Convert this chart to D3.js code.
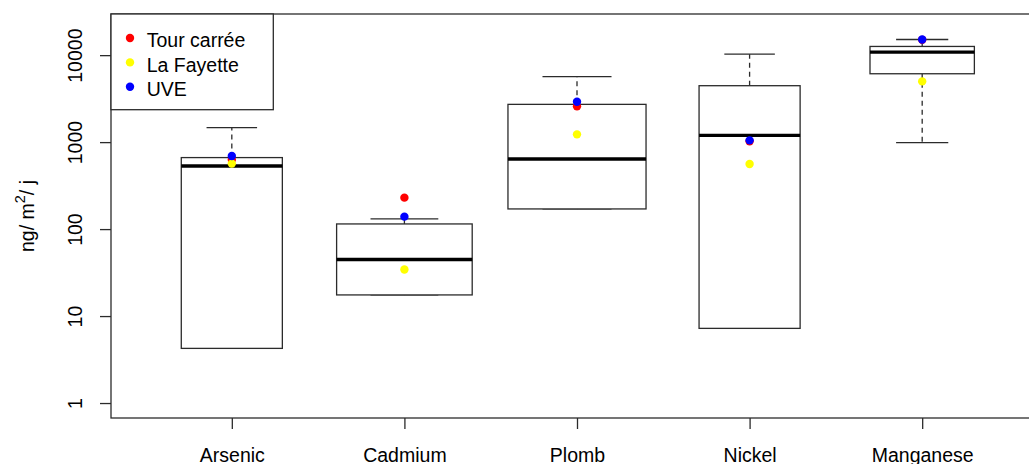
<!DOCTYPE html>
<html>
<head>
<meta charset="utf-8">
<script src="https://cdn.jsdelivr.net/npm/d3@7"></script>
<style>
  body { margin: 0; background: #fff; }
  svg { display: block; }
  text { font-family: "Liberation Sans", Arial, sans-serif; fill: #000; }
</style>
</head>
<body>
<svg id="chart"></svg>
<script>
// metals measured, ng/m2/j (log scale)
var categories = ["Arsenic", "Cadmium", "Plomb", "Nickel", "Manganese"];
// boxplot stats
var whiskerLow  = [4.25, 17.5, 170.5, 7.22, 987];
var q1          = [4.25, 17.5, 170.5, 7.22, 6110];
var median      = [531, 44.7, 640, 1196, 10830];
var q3          = [664, 114.6, 2717, 4453, 12590];
var whiskerHigh = [1466, 130.9, 5650, 10270, 15140];
// group sizes (varwidth boxes)
var sampleSizes = [15, 27, 28, 15, 16];

// one value per site
var sites = ["Tour carrée", "La Fayette", "UVE"];
var siteColors = ["red", "yellow", "blue"];
var tourCarree = [626, 230, 2577, 1021, 15000];
var laFayette  = [566, 34.3, 1228, 560, 4990];
var uve        = [692, 139, 2917, 1048, 15140];
var siteValues = [tourCarree, laFayette, uve];

var yLimits = [1, 20000];
var yTicks = [1, 10, 100, 1000, 10000];

var svgWidth = 1029, svgHeight = 464;
var margin = { top: 14, left: 111, bottom: 46 };
var plotRight = 1043;
var height = svgHeight - margin.top - margin.bottom;

var svg = d3.select("#chart")
  .attr("width", svgWidth)
  .attr("height", svgHeight);

// R style: extend ranges by 4% (log space for y)
var lo = Math.log10(yLimits[0]), hi = Math.log10(yLimits[1]);
var pad = (hi - lo) * 0.04;
var y = d3.scaleLog()
  .domain([Math.pow(10, lo - pad), Math.pow(10, hi + pad)])
  .range([margin.top + height, margin.top]);

var xpad = categories.length * 0.04;
var x = d3.scaleLinear()
  .domain([0.5 - xpad, categories.length + 0.5 + xpad])
  .range([margin.left, plotRight]);

var maxN = d3.max(sampleSizes);
var boxW = function (i) {
  return x(0.8 * Math.sqrt(sampleSizes[i] / maxN)) - x(0);
};

var lineColor = "#2b2b2b";

// boxes
var g = svg.append("g");
categories.forEach(function (c, i) {
  var cx = x(i + 1), w = boxW(i), cap = w / 2;

  [[q3[i], whiskerHigh[i]], [q1[i], whiskerLow[i]]].forEach(function (seg) {
    g.append("line")
      .attr("x1", cx).attr("x2", cx)
      .attr("y1", y(seg[0])).attr("y2", y(seg[1]))
      .attr("stroke", lineColor)
      .attr("stroke-width", 1.3)
      .attr("stroke-dasharray", "5,4");
    g.append("line")
      .attr("x1", cx - cap / 2).attr("x2", cx + cap / 2)
      .attr("y1", y(seg[1])).attr("y2", y(seg[1]))
      .attr("stroke", lineColor)
      .attr("stroke-width", 1.3);
  });

  g.append("rect")
    .attr("x", cx - w / 2)
    .attr("y", y(q3[i]))
    .attr("width", w)
    .attr("height", y(q1[i]) - y(q3[i]))
    .attr("fill", "#fff")
    .attr("stroke", lineColor)
    .attr("stroke-width", 1.3);

  g.append("line")
    .attr("x1", cx - w / 2).attr("x2", cx + w / 2)
    .attr("y1", y(median[i])).attr("y2", y(median[i]))
    .attr("stroke", "#000")
    .attr("stroke-width", 3.4);
});

// site points: red, then yellow, then blue on top
siteValues.forEach(function (vals, s) {
  g.selectAll(null)
    .data(vals)
    .enter()
    .append("circle")
    .attr("cx", function (d, i) { return x(i + 1); })
    .attr("cy", function (d) { return y(d); })
    .attr("r", 4.2)
    .attr("fill", siteColors[s]);
});

// frame
svg.append("rect")
  .attr("x", margin.left)
  .attr("y", margin.top)
  .attr("width", plotRight - margin.left)
  .attr("height", height)
  .attr("fill", "none")
  .attr("stroke", lineColor)
  .attr("stroke-width", 1.3);

// y axis
var yAxis = svg.append("g")
  .attr("transform", "translate(" + margin.left + ",0)")
  .call(d3.axisLeft(y).tickValues(yTicks).tickFormat(d3.format("d")).tickSize(11));
yAxis.select(".domain").remove();
yAxis.selectAll(".tick line").attr("stroke", lineColor).attr("stroke-width", 1.3);
yAxis.selectAll(".tick text")
  .attr("x", null).attr("dy", null)
  .attr("transform", "translate(-29.3,0) rotate(-90)")
  .attr("text-anchor", "middle")
  .style("font-size", "19.5px")
  .style("font-family", "'Liberation Sans', Arial, sans-serif")
  .attr("fill", "#000");

// x axis
var xAxis = svg.append("g")
  .attr("transform", "translate(0," + (margin.top + height) + ")")
  .call(d3.axisBottom(x)
    .tickValues(d3.range(1, categories.length + 1))
    .tickFormat(function (d) { return categories[d - 1]; })
    .tickSize(11));
xAxis.select(".domain").remove();
xAxis.selectAll(".tick line").attr("stroke", lineColor).attr("stroke-width", 1.3);
xAxis.selectAll(".tick text")
  .attr("y", 43.5).attr("dy", null)
  .style("font-size", "19.5px")
  .style("font-family", "'Liberation Sans', Arial, sans-serif")
  .attr("fill", "#000");

// y title: ng/ m^2/ j
var title = svg.append("text")
  .attr("transform", "translate(33.5," + (margin.top + height / 2) + ") rotate(-90)")
  .attr("text-anchor", "middle")
  .style("font-size", "19.5px");
title.append("tspan").text("ng/ m");
title.append("tspan").attr("dy", -9).style("font-size", "14.5px").text("2");
title.append("tspan").attr("dy", 9).text("/ j");

// legend
var legend = svg.append("g");
legend.append("rect")
  .attr("x", margin.left)
  .attr("y", margin.top)
  .attr("width", 162.3)
  .attr("height", 95.7)
  .attr("fill", "#fff")
  .attr("stroke", lineColor)
  .attr("stroke-width", 1.3);
sites.forEach(function (s, i) {
  var ly = margin.top + 24 + i * 24.4;
  legend.append("circle")
    .attr("cx", margin.left + 19)
    .attr("cy", ly)
    .attr("r", 4.2)
    .attr("fill", siteColors[i]);
  legend.append("text")
    .attr("x", margin.left + 35.7)
    .attr("y", ly + 9.3)
    .style("font-size", "19.5px")
    .text(s);
});
</script>
</body>
</html>
